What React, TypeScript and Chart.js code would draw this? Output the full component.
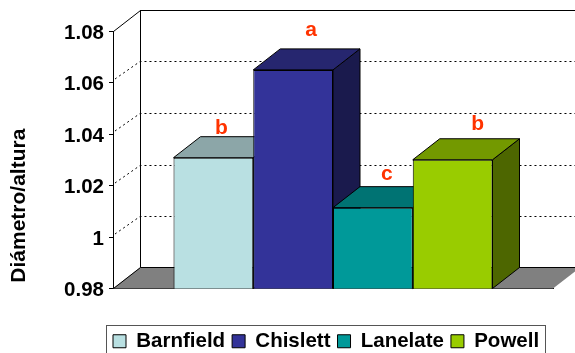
import React, { useEffect, useRef } from "react";
import { Chart, registerables } from "chart.js";

Chart.register(...registerables);

const categories = ["Barnfield", "Chislett", "Lanelate", "Powell"];
const seriesValues = [1.0308, 1.0649, 1.0114, 1.03];
const significance = ["b", "a", "c", "b"];
const yAxisTitle = " Diámetro/altura";

const frontColors = ["#B9E0E2", "#333399", "#009999", "#99CC00"];
const topColors = ["#8CA6A8", "#26266F", "#007373", "#739900"];
const sideColors = ["#6E8586", "#1A1A4D", "#004D4D", "#4D6600"];
const letterShift = [[8, -29], [18, -40], [14, -33], [25, -36]];

const DEPTH_X = 27;
const DEPTH_Y = 21;
const FONT = '"Liberation Sans", Arial, sans-serif';

function poly(ctx: CanvasRenderingContext2D, pts: number[][], fill: string | null, stroke: string | null) {
  ctx.beginPath();
  pts.forEach((p, i) => (i ? ctx.lineTo(p[0], p[1]) : ctx.moveTo(p[0], p[1])));
  ctx.closePath();
  if (fill) { ctx.fillStyle = fill; ctx.fill(); }
  if (stroke) { ctx.strokeStyle = stroke; ctx.lineWidth = 1; ctx.stroke(); }
}

const threeD = {
  id: "threeD",
  afterLayout(chart: any) {
    const lg = chart.legend;
    if (!lg) return;
    const h = lg.bottom - lg.top;
    lg.left = 106;
    lg.right = 560;
    lg.top = 324;
    lg.bottom = 324 + h;
  },
  beforeDatasetsDraw(chart: any) {
    const { ctx, chartArea: a, scales } = chart;
    const y = scales.y;
    ctx.save();
    // floor
    poly(ctx, [[a.left, a.bottom], [a.left + DEPTH_X, a.bottom - DEPTH_Y], [a.right + DEPTH_X, a.bottom - DEPTH_Y], [a.right, a.bottom]], "#808080", null);
    // walls
    ctx.strokeStyle = "#000";
    ctx.lineWidth = 1;
    ctx.beginPath();
    ctx.moveTo(a.left + 0.5, a.top + 0.5);
    ctx.lineTo(a.left + DEPTH_X + 0.5, a.top - DEPTH_Y + 0.5);
    ctx.lineTo(a.right + DEPTH_X, a.top - DEPTH_Y + 0.5);
    ctx.moveTo(a.left + DEPTH_X + 0.5, a.top - DEPTH_Y);
    ctx.lineTo(a.left + DEPTH_X + 0.5, a.bottom - DEPTH_Y);
    ctx.moveTo(a.left + 0.5, a.bottom);
    ctx.lineTo(a.left + DEPTH_X + 0.5, a.bottom - DEPTH_Y);
    ctx.lineTo(a.right + DEPTH_X, a.bottom - DEPTH_Y);
    ctx.stroke();
    // dotted gridlines
    ctx.setLineDash([2, 3]);
    y.ticks.forEach((t: any) => {
      if (t.value <= y.min + 1e-6 || t.value >= y.max - 1e-6) return;
      const py = Math.round(y.getPixelForValue(t.value));
      ctx.beginPath();
      ctx.moveTo(a.left + 2, py - 3);
      ctx.lineTo(a.left + DEPTH_X, py - DEPTH_Y + 0.5);
      ctx.lineTo(a.right + DEPTH_X, py - DEPTH_Y + 0.5);
      ctx.stroke();
    });
    ctx.setLineDash([]);
    // bar tops and sides, painted left to right
    categories.forEach((_, i) => {
      const bar = chart.getDatasetMeta(i).data[0];
      const l = bar.x - bar.width / 2;
      const r = bar.x + bar.width / 2;
      const base = a.bottom;
      poly(ctx, [[r, bar.y], [r + DEPTH_X, bar.y - DEPTH_Y], [r + DEPTH_X, base - DEPTH_Y], [r, base]], sideColors[i], "#000");
      poly(ctx, [[l, bar.y], [l + DEPTH_X, bar.y - DEPTH_Y], [r + DEPTH_X, bar.y - DEPTH_Y], [r, bar.y]], topColors[i], "#000");
    });
    ctx.restore();
  },
  afterDraw(chart: any) {
    const { ctx } = chart;
    ctx.save();
    ctx.fillStyle = "#FF3300";
    ctx.font = `bold 21px ${FONT}`;
    ctx.textAlign = "center";
    ctx.textBaseline = "middle";
    significance.forEach((s, i) => {
      const bar = chart.getDatasetMeta(i).data[0];
      ctx.fillText(s, bar.x + letterShift[i][0], bar.y + letterShift[i][1]);
    });
    // legend frame
    ctx.strokeStyle = "#555";
    ctx.lineWidth = 1;
    ctx.strokeRect(106.5, 325.5, 439, 40);
    ctx.restore();
  },
};

export default function App() {
  const ref = useRef<HTMLCanvasElement>(null);
  useEffect(() => {
    const chart = new Chart(ref.current!, {
      type: "bar",
      data: {
        labels: [""],
        datasets: categories.map((c, i) => ({
          label: c,
          data: [seriesValues[i]],
          backgroundColor: frontColors[i],
          borderColor: "#000",
          borderWidth: 1,
          barPercentage: 1,
          categoryPercentage: 0.725,
        })),
      },
      options: {
        responsive: false,
        animation: false,
        devicePixelRatio: 1,
        layout: { padding: { top: 31, right: 22, left: 0, bottom: 27 } },
        scales: {
          x: {
            grid: { display: false, drawTicks: false },
            border: { color: "#000" },
            ticks: { display: false },
          },
          y: {
            min: 0.98,
            max: 1.08,
            afterFit(s: any) { s.width = 113; },
            grid: { drawOnChartArea: false, color: "#000", tickLength: 4 },
            border: { color: "#000" },
            ticks: {
              stepSize: 0.02,
              color: "#000",
              padding: 5,
              labelOffset: 2,
              font: { family: FONT, size: 20.5, weight: "bold" },
              callback: (v: any) => String(+Number(v).toFixed(2)),
            },
            title: {
              display: true,
              text: yAxisTitle,
              align: "start",
              color: "#000",
              padding: { top: 7, bottom: 0 },
              font: { family: FONT, size: 21, weight: "bold" },
            },
          },
        },
        plugins: {
          tooltip: { enabled: false },
          legend: {
            position: "bottom",
            align: "start",
            labels: {
              boxWidth: 13,
              boxHeight: 13,
              padding: 7,
              color: "#000",
              font: { family: FONT, size: 20.5, weight: "bold" },
            },
          },
        },
      },
      plugins: [threeD],
    } as any);
    return () => chart.destroy();
  }, []);
  return (
    <div style={{ position: "fixed", left: 0, top: 0, width: 575, height: 353, background: "#fff", overflow: "hidden" }}>
      <canvas ref={ref} width={575} height={353} style={{ display: "block" }} />
    </div>
  );
}
